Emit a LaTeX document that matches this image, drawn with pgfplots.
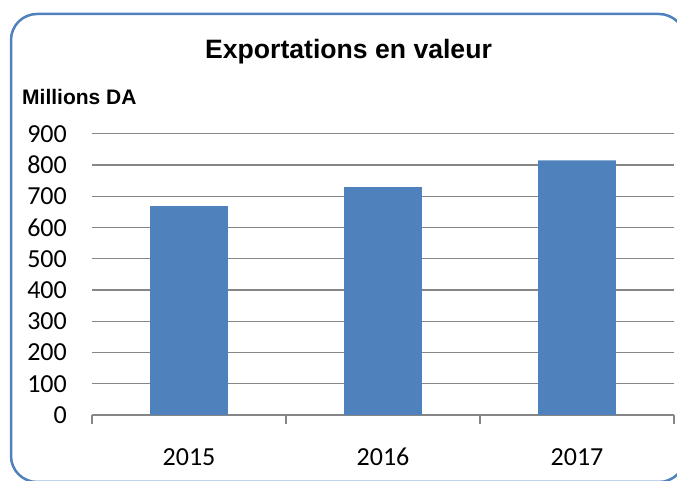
\documentclass[border=0pt]{standalone}
\usepackage{fontspec}
\setmainfont{Liberation Sans}
\newfontfamily\carlito{Carlito}
\usepackage{pgfplots}
\pgfplotsset{compat=1.18}
\definecolor{barblue}{HTML}{4F81BD}
\definecolor{gridgray}{HTML}{868686}
\begin{document}
\begin{tikzpicture}[x=1pt,y=1pt]
\path[use as bounding box] (0,0) rectangle (677,481);
\begin{scope}
\clip (0,0) rectangle (677,481);
\draw[barblue, line width=2.5pt, rounded corners=26pt] (11,-1) rectangle (685,467);
\end{scope}
\node[anchor=base, inner sep=0pt, font=\bfseries\fontsize{26.6}{30}\selectfont] at (348.5,422) {Exportations en valeur};
\node[anchor=base west, inner sep=0pt, font=\bfseries\fontsize{21}{24}\selectfont] at (22,376) {Millions DA};
\begin{axis}[
 at={(92pt,66pt)}, anchor=south west, scale only axis,
 width=582pt, height=281.3pt,
 xmin=0.5, xmax=3.5, ymin=0, ymax=900,
 ytick={0,100,...,900},
 xtick={1,2,3}, xticklabels={2015,2016,2017},
 minor xtick={0.5,1.5,2.5,3.5},
 axis x line*=bottom, axis y line*=left,
 y axis line style={draw=none},
 x axis line style={gridgray, line width=1.2pt, -},
 ymajorgrids, grid style={gridgray, line width=1.2pt},
 major tick length=0pt, minor tick length=9pt,
 tick align=outside,
 minor tick style={gridgray, line width=1.2pt},
 ytick style={draw=none},
 yticklabel style={anchor=east, inner sep=0pt, xshift=-25pt},
 xticklabel style={anchor=north, inner sep=0pt, yshift=-33pt},
 tick label style={font=\carlito\fontsize{26}{26}\selectfont},
 /pgf/number format/assume math mode=true,
 bar width=0.4,
]
\addplot[ybar, fill=barblue, draw=none] coordinates {(1,668) (2,729) (3,815)};
\end{axis}
\end{tikzpicture}
\end{document}
